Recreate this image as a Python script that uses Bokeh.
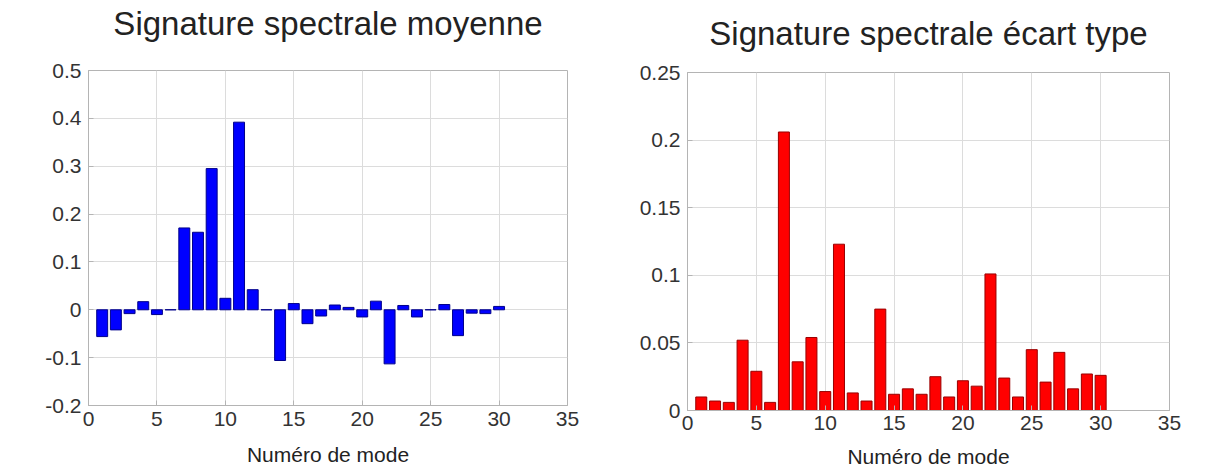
from bokeh.plotting import figure
from bokeh.layouts import row, column
from bokeh.models import Range1d, FixedTicker, CustomJSTickFormatter, ColumnDataSource
from bokeh.embed import file_html
from bokeh.resources import INLINE

# ---- data ----
modes = list(range(1, 31))
moyenne = [-0.056, -0.042, -0.008, 0.017, -0.010, 0.0, 0.171, 0.162, 0.295, 0.024,
           0.392, 0.042, 0.0, -0.106, 0.013, -0.029, -0.013, 0.010, 0.005, -0.015,
           0.018, -0.113, 0.009, -0.015, 0.0, 0.011, -0.054, -0.007, -0.008, 0.007]
ecart_type = [0.010, 0.007, 0.006, 0.052, 0.029, 0.006, 0.206, 0.036, 0.054, 0.014,
              0.123, 0.013, 0.007, 0.075, 0.012, 0.016, 0.012, 0.025, 0.010, 0.022,
              0.018, 0.101, 0.024, 0.010, 0.045, 0.021, 0.043, 0.016, 0.027, 0.026]
x_ticks = [0, 5, 10, 15, 20, 25, 30, 35]
y_ticks_left = [-0.2, -0.1, 0, 0.1, 0.2, 0.3, 0.4, 0.5]
y_ticks_right = [0, 0.05, 0.1, 0.15, 0.2, 0.25]
title_left = "Signature spectrale moyenne"
title_right = "Signature spectrale écart type"
x_label = "Numéro de mode"

FONT = "Liberation Sans"


def title_fig(text, width, height, bl, br, top, standoff):
    t = figure(width=width, height=height, output_backend="svg", toolbar_location=None,
               title=text, x_axis_location=None, y_axis_location=None,
               min_border_left=bl, min_border_right=br, min_border_top=top, min_border_bottom=0)
    t.title.text_font = FONT
    t.title.text_font_size = "33px"
    t.title.text_font_style = "normal"
    t.title.text_color = "#222222"
    t.title.align = "center"
    t.title.vertical_align = "top"
    t.title.standoff = standoff
    t.outline_line_color = None
    t.grid.visible = False
    t.border_fill_color = "white"
    t.background_fill_color = "white"
    return t


def style(p, yticks, tick_standoff, label_standoff):
    p.xaxis.ticker = FixedTicker(ticks=x_ticks)
    p.yaxis.ticker = FixedTicker(ticks=yticks)
    p.yaxis.formatter = CustomJSTickFormatter(code="return (Math.round(tick*100)/100).toString();")
    p.xaxis.formatter = CustomJSTickFormatter(code="return tick.toString();")
    for ax in (p.xaxis, p.yaxis):
        ax.major_label_text_font = FONT
        ax.major_label_text_font_size = "21px"
        ax.major_label_text_color = "#333333"
        ax.axis_line_color = "#b4b4b4"
        ax.major_tick_line_color = "#b4b4b4"
        ax.major_tick_in = 5
        ax.major_tick_out = 0
        ax.minor_tick_line_color = None
    p.yaxis.major_label_standoff = 7
    p.xaxis.major_label_standoff = tick_standoff
    p.xaxis.axis_label = x_label
    p.xaxis.axis_label_text_font = FONT
    p.xaxis.axis_label_text_font_size = "21px"
    p.xaxis.axis_label_text_font_style = "normal"
    p.xaxis.axis_label_text_color = "#222222"
    p.xaxis.axis_label_standoff = label_standoff
    p.grid.grid_line_color = "#dcdcdc"
    p.outline_line_color = "#b4b4b4"
    p.background_fill_color = "white"
    p.border_fill_color = "white"


# left chart
t1 = title_fig(title_left, 600, 56, 88, 33, 0, 9)
p1 = figure(width=600, height=417, output_backend="svg", toolbar_location=None,
            x_range=Range1d(0, 35), y_range=Range1d(-0.2, 0.5),
            min_border_left=88, min_border_right=33, min_border_top=14, min_border_bottom=68)
style(p1, y_ticks_left, 6, 14)
src1 = ColumnDataSource(dict(x=modes, top=moyenne))
p1.vbar(x="x", top="top", bottom=0, width=0.8, source=src1,
        fill_color="#0000ff", line_color="#00008b", line_width=1)

# right chart
t2 = title_fig(title_right, 609, 60, 87, 40, 58, 9)
p2 = figure(width=609, height=413, output_backend="svg", toolbar_location=None,
            x_range=Range1d(0, 35), y_range=Range1d(0, 0.25),
            min_border_left=87, min_border_right=40, min_border_top=12, min_border_bottom=63)
style(p2, y_ticks_right, 5, 12)
src2 = ColumnDataSource(dict(x=modes, top=ecart_type))
p2.vbar(x="x", top="top", bottom=0, width=0.8, source=src2,
        fill_color="#ff0000", line_color="#990000", line_width=1)

layout = row(column(t1, p1, spacing=0), column(t2, p2, spacing=0), spacing=0)
open("out.html", "w").write(file_html(layout, INLINE))
